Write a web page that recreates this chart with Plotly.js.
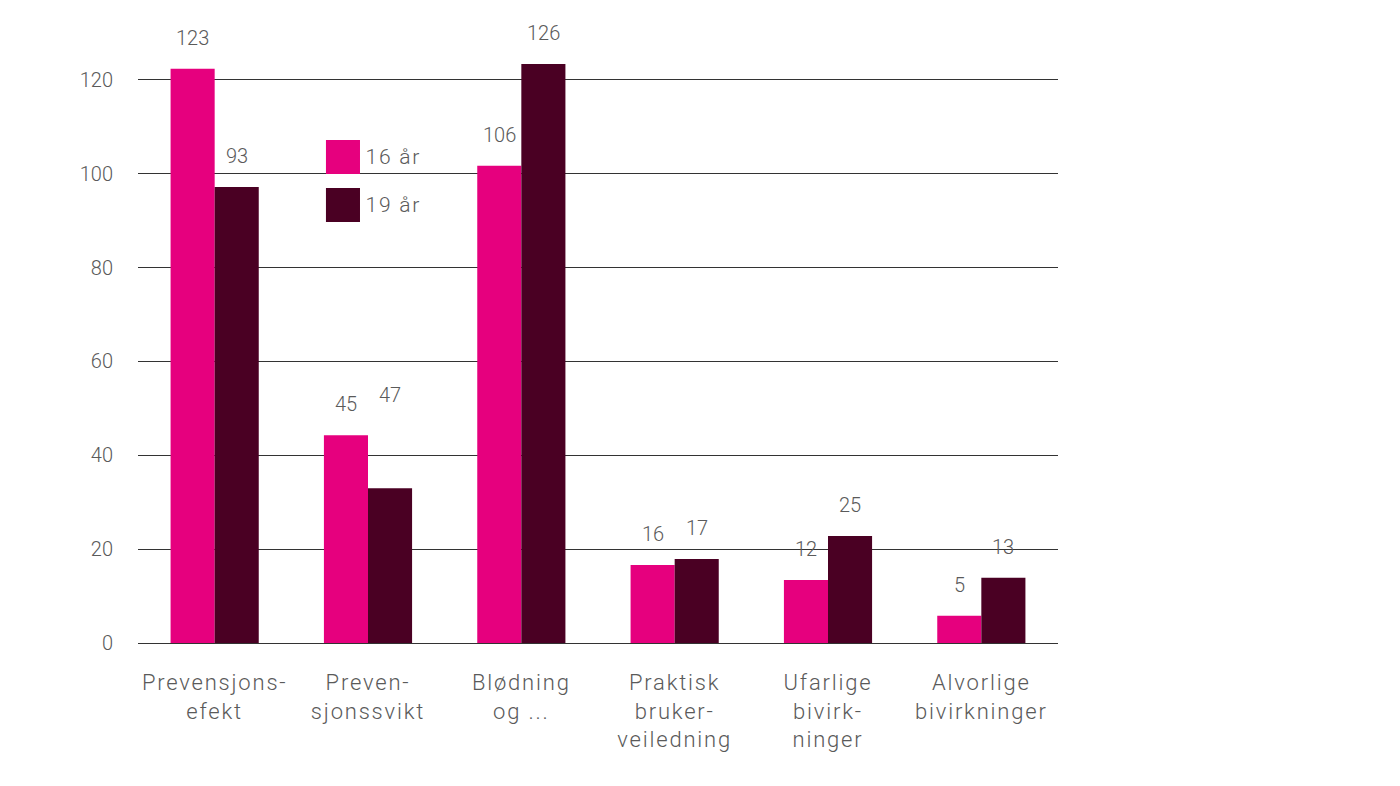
<!DOCTYPE html>
<html>
<head>
<meta charset="utf-8">
<script src="https://cdn.plot.ly/plotly-3.0.1.min.js"></script>
<style>
html,body{margin:0;padding:0;background:#fff;}
#chart{width:1400px;height:786px;}
.xtick text{letter-spacing:1.8px;}
.annotation[data-index="12"] text,.annotation[data-index="13"] text{letter-spacing:1.8px;}
</style>
</head>
<body>
<div id="chart"></div>
<script>
// ---- data ----
const categories = [
  "Prevensjons-<br>efekt",
  "Preven-<br>sjonssvikt",
  "Blødning<br>og ...",
  "Praktisk<br>bruker-<br>veiledning",
  "Ufarlige<br>bivirk-<br>ninger",
  "Alvorlige<br>bivirkninger"
];
const seriesNames = ["16 år", "19 år"];
// bar heights as drawn
const values16 = [122.4, 44.3, 101.7, 16.6, 13.4, 5.8];
const values19 = [97.2, 33.0, 123.4, 17.9, 22.8, 13.9];
// value labels as printed
const labels16 = ["123", "45", "106", "16", "12", "5"];
const labels19 = ["93", "47", "126", "17", "25", "13"];
const yTicks = [0, 20, 40, 60, 80, 100, 120];

// ---- styling ----
const colors = ["#e6007e", "#4a0023"];
const textColor = "#5a5a5a";
const fontFamily = "Roboto, 'Open Sans', sans-serif";
const barPx = 44;

const traces = [values16, values19].map((vals, i) => ({
  type: "bar",
  name: seriesNames[i],
  x: categories,
  y: vals,
  marker: {color: colors[i], line: {width: 0}},
  hoverinfo: "skip",
  showlegend: false
}));

const annotations = [];
[[values16, labels16, -1], [values19, labels19, 1]].forEach(([vals, labs, side], s) => {
  categories.forEach((c, i) => {
    let extra = 0;
    if (s === 1 && i === 1) extra = 62; // label placed higher in the original
    annotations.push({
      xref: "x", yref: "y", x: c, y: vals[i],
      text: labs[i], showarrow: false,
      xshift: side * barPx / 2, yshift: 31 + extra,
      yanchor: "middle", xanchor: "center",
      font: {family: fontFamily, size: 20, color: textColor, weight: 300}
    });
  });
});

// custom legend with large square swatches
const shapes = [];
seriesNames.forEach((n, i) => {
  const top = 0.8246 - i * 0.0787;
  shapes.push({
    type: "rect", xref: "paper", yref: "paper",
    x0: 0.2043, x1: 0.2413, y0: top - 0.0557, y1: top,
    fillcolor: colors[i], line: {width: 0}, layer: "above"
  });
  annotations.push({
    xref: "paper", yref: "paper", x: 0.25, y: top - 0.0279,
    xanchor: "left", yanchor: "middle", showarrow: false, text: n,
    font: {family: fontFamily, size: 21, color: textColor, weight: 300}
  });
});

const layout = {
  width: 1400, height: 786,
  margin: {l: 138, r: 342, t: 33, b: 143},
  paper_bgcolor: "#ffffff", plot_bgcolor: "#ffffff",
  barmode: "group", bargap: 0.425, bargroupgap: 0,
  showlegend: false,
  font: {family: fontFamily, color: textColor, size: 20, weight: 300},
  xaxis: {
    type: "category", showgrid: false, zeroline: false, showline: false,
    ticks: "", ticklabelstandoff: 24,
    tickfont: {family: fontFamily, size: 22, color: textColor, weight: 300}
  },
  yaxis: {
    range: [0, 130], tickvals: yTicks, ticktext: yTicks.map(String),
    showgrid: true, gridcolor: "#333333", gridwidth: 1,
    zeroline: true, zerolinecolor: "#333333", zerolinewidth: 1,
    showline: false, ticks: "", ticklabelstandoff: 24,
    tickfont: {family: fontFamily, size: 20, color: textColor, weight: 300}
  },
  shapes: shapes,
  annotations: annotations
};

Plotly.newPlot("chart", traces, layout, {displayModeBar: false, staticPlot: true});
</script>
</body>
</html>
